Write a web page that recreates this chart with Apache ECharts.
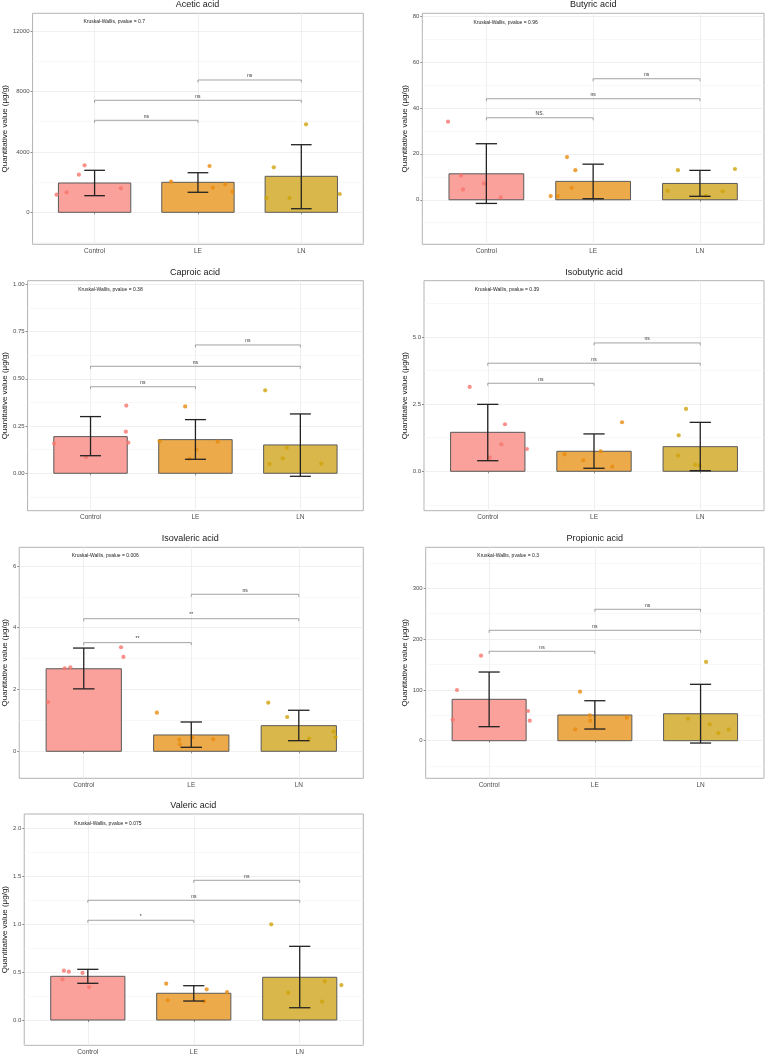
<!DOCTYPE html>
<html>
<head>
<meta charset="utf-8">
<script src="https://cdn.jsdelivr.net/npm/echarts@6/dist/echarts.min.js"></script>
<style>
html, body { margin: 0; padding: 0; background: #fff; }
#main { width: 767px; height: 1057px; }
</style>
</head>
<body>
<div id="main"></div>
<script>
var groups = ['Control', 'LE', 'LN'];
var ptColors = ['#F8766D', '#E98B0C', '#D0A20A'];
var barColors = ['#F9A19A', '#EDAA4B', '#D9B74A'];
var pairs = [[1, 2], [1, 3], [2, 3]];

// Acetic acid
var aceticMean = [1939, 1985, 2382];
var aceticLow = [1100, 1324, 238];
var aceticHigh = [2780, 2620, 4474];
var aceticPtX = [0.632, 0.729, 0.848, 0.903, 1.254, 1.74, 2.112, 2.144, 2.263, 2.334, 2.663, 2.734, 2.886, 3.046, 3.372];
var aceticPtY = [1166, 1324, 2490, 3110, 1588, 2026, 3064, 1630, 1853, 1365, 946, 2978, 946, 5823, 1211];
var aceticSig = [6088, 7412, 8756];
var aceticSigText = ['ns', 'ns', 'ns'];
var aceticTicks = [0, 4000, 8000, 12000];
var aceticMinor = [-2000, 2000, 6000, 10000];
var aceticRange = [-2118, 13170];
var aceticP = ['Kruskal-Wallis, pvalue = 0.7', 1.19, 12594];

// Butyric acid
var butyricMean = [11.3, 8.0, 7.1];
var butyricLow = [-1.6, 0.44, 1.5];
var butyricHigh = [24.4, 15.5, 12.8];
var butyricPtX = [0.641, 0.762, 0.781, 0.978, 1.134, 1.602, 1.668, 1.755, 1.799, 1.833, 2.698, 2.794, 3.056, 3.213, 3.328];
var butyricPtY = [34.0, 10.6, 4.5, 7.1, 1.0, 1.6, 1.6, 18.6, 5.2, 12.9, 3.9, 12.9, 1.7, 3.7, 13.4];
var butyricSig = [35.7, 44.0, 52.7];
var butyricSigText = ['NS.', 'ns', 'ns'];
var butyricTicks = [0, 20, 40, 60, 80];
var butyricMinor = [-10, 10, 30, 50, 70];
var butyricRange = [-19.4, 81.2];
var butyricP = ['Kruskal-Wallis, pvalue = 0.96', 1.18, 77.3];

// Caproic acid
var caproicMean = [0.194, 0.178, 0.150];
var caproicLow = [0.093, 0.074, -0.016];
var caproicHigh = [0.30, 0.284, 0.314];
var caproicPtX = [0.653, 0.957, 1.341, 1.337, 1.36, 1.658, 1.902, 1.943, 2.009, 2.212, 2.665, 2.706, 2.833, 2.871, 3.2];
var caproicPtY = [0.157, 0.086, 0.358, 0.220, 0.162, 0.169, 0.354, 0.077, 0.125, 0.167, 0.439, 0.049, 0.079, 0.135, 0.051];
var caproicSig = [0.458, 0.566, 0.679];
var caproicSigText = ['ns', 'ns', 'ns'];
var caproicTicks = [0, 0.25, 0.5, 0.75, 1];
var caproicMinor = [-0.125, 0.125, 0.375, 0.625, 0.875];
var caproicRange = [-0.198, 1.019];
var caproicP = ['Kruskal-Wallis, pvalue = 0.38', 1.19, 0.973];

// Isobutyric acid
var isobutyricMean = [1.45, 0.744, 0.916];
var isobutyricLow = [0.394, 0.112, 0.022];
var isobutyricHigh = [2.49, 1.39, 1.82];
var isobutyricPtX = [0.83, 1.018, 1.128, 1.162, 1.369, 1.724, 1.899, 2.063, 2.172, 2.264, 2.791, 2.797, 2.866, 2.953, 2.995];
var isobutyricPtY = [3.14, 0.506, 1.005, 1.75, 0.83, 0.633, 0.409, 0.744, 0.171, 1.824, 0.58, 1.34, 2.32, 0.246, 0.208];
var isobutyricSig = [3.275, 4.02, 4.775];
var isobutyricSigText = ['ns', 'ns', 'ns'];
var isobutyricTicks = [0, 2.5, 5];
var isobutyricMinor = [-1.25, 1.25, 3.75, 6.25];
var isobutyricRange = [-1.466, 7.09];
var isobutyricP = ['Kruskal-Wallis, pvalue = 0.39', 1.18, 6.77];

// Isovaleric acid
var isovalericMean = [2.67, 0.528, 0.829];
var isovalericLow = [2.02, 0.129, 0.343];
var isovalericHigh = [3.34, 0.948, 1.327];
var isovalericPtX = [0.668, 0.823, 0.875, 1.347, 1.369, 1.68, 1.889, 1.893, 2.01, 2.204, 2.716, 2.892, 3.096, 3.323, 3.342];
var isovalericPtY = [1.595, 2.686, 2.718, 3.366, 3.052, 1.249, 0.375, 0.226, 0.453, 0.388, 1.573, 1.11, 0.408, 0.634, 0.453];
var isovalericSig = [3.515, 4.29, 5.08];
var isovalericSigText = ['**', '**', 'ns'];
var isovalericTicks = [0, 2, 4, 6];
var isovalericMinor = [1, 3, 5];
var isovalericRange = [-0.874, 6.6];
var isovalericP = ['Kruskal-Wallis, pvalue = 0.006', 1.2, 6.32];

// Propionic acid
var propionicMean = [81.5, 50.6, 53.1];
var propionicLow = [27.6, 23, -4.6];
var propionicHigh = [135.2, 78.7, 111];
var propionicPtX = [0.655, 0.696, 0.923, 1.368, 1.384, 1.815, 1.86, 1.952, 1.957, 2.302, 2.881, 3.052, 3.087, 3.168, 3.267];
var propionicPtY = [41.3, 99.8, 167.3, 58.5, 39.4, 22.4, 96.5, 50, 39.4, 45.3, 43.3, 155, 32.3, 15.2, 21.7];
var propionicSig = [176, 217.3, 258.7];
var propionicSigText = ['ns', 'ns', 'ns'];
var propionicTicks = [0, 100, 200, 300];
var propionicMinor = [-50, 50, 150, 250, 350];
var propionicRange = [-74, 380.7];
var propionicP = ['Kruskal-Wallis, pvalue = 0.3', 1.18, 363.6];

// Valeric acid
var valericMean = [0.456, 0.279, 0.446];
var valericLow = [0.383, 0.198, 0.128];
var valericHigh = [0.529, 0.358, 0.769];
var valericPtX = [0.761, 0.774, 0.821, 0.95, 1.012, 1.74, 1.755, 2.098, 2.122, 2.314, 2.731, 2.891, 3.211, 3.237, 3.393];
var valericPtY = [0.425, 0.515, 0.504, 0.491, 0.344, 0.379, 0.206, 0.195, 0.32, 0.292, 0.999, 0.285, 0.191, 0.404, 0.365];
var valericSig = [1.041, 1.25, 1.458];
var valericSigText = ['*', 'ns', 'ns'];
var valericTicks = [0, 0.5, 1, 1.5, 2];
var valericMinor = [-0.25, 0.25, 0.75, 1.25, 1.75];
var valericRange = [-0.264, 2.15];
var valericP = ['Kruskal-Wallis, pvalue = 0.075', 1.19, 2.053];

var panels = [
  {title: 'Acetic acid', mean: aceticMean, low: aceticLow, high: aceticHigh, px: aceticPtX, py: aceticPtY, sig: aceticSig, sigText: aceticSigText, ticks: aceticTicks, minor: aceticMinor, range: aceticRange, p: aceticP, box: [31.7, 13.3, 331.6, 231]},
  {title: 'Butyric acid', mean: butyricMean, low: butyricLow, high: butyricHigh, px: butyricPtX, py: butyricPtY, sig: butyricSig, sigText: butyricSigText, ticks: butyricTicks, minor: butyricMinor, range: butyricRange, p: butyricP, box: [422.3, 13.3, 341.7, 231]},
  {title: 'Caproic acid', mean: caproicMean, low: caproicLow, high: caproicHigh, px: caproicPtX, py: caproicPtY, sig: caproicSig, sigText: caproicSigText, ticks: caproicTicks, minor: caproicMinor, range: caproicRange, p: caproicP, box: [26.7, 280.7, 336.6, 230]},
  {title: 'Isobutyric acid', mean: isobutyricMean, low: isobutyricLow, high: isobutyricHigh, px: isobutyricPtX, py: isobutyricPtY, sig: isobutyricSig, sigText: isobutyricSigText, ticks: isobutyricTicks, minor: isobutyricMinor, range: isobutyricRange, p: isobutyricP, box: [424, 280.7, 340, 230]},
  {title: 'Isovaleric acid', mean: isovalericMean, low: isovalericLow, high: isovalericHigh, px: isovalericPtX, py: isovalericPtY, sig: isovalericSig, sigText: isovalericSigText, ticks: isovalericTicks, minor: isovalericMinor, range: isovalericRange, p: isovalericP, box: [17.3, 547.3, 346, 231]},
  {title: 'Propionic acid', mean: propionicMean, low: propionicLow, high: propionicHigh, px: propionicPtX, py: propionicPtY, sig: propionicSig, sigText: propionicSigText, ticks: propionicTicks, minor: propionicMinor, range: propionicRange, p: propionicP, box: [425.7, 547.3, 338.3, 231]},
  {title: 'Valeric acid', mean: valericMean, low: valericLow, high: valericHigh, px: valericPtX, py: valericPtY, sig: valericSig, sigText: valericSigText, ticks: valericTicks, minor: valericMinor, range: valericRange, p: valericP, box: [23.3, 814, 340, 231.3]}
];

var font = 'Liberation Sans, Arial, Helvetica, sans-serif';
var nameLeft = [6, 406, 6, 406, 6, 406, 6];

var option = {
  animation: false,
  backgroundColor: '#fff',
  title: [],
  grid: [],
  xAxis: [],
  yAxis: [],
  series: []
};

panels.forEach(function (p, i) {
  var b = p.box;
  option.title.push({
    text: p.title,
    left: b[0] + b[2] / 2,
    top: b[1] - 13,
    textAlign: 'center',
    padding: 0,
    textStyle: {fontFamily: font, fontSize: 9, fontWeight: 'normal', color: '#1a1a1a'}
  });
  option.grid.push({
    left: b[0], top: b[1], width: b[2], height: b[3],
    show: true, borderColor: '#b3b3b3', borderWidth: 1, backgroundColor: 'transparent'
  });
  option.xAxis.push({
    type: 'value', gridIndex: i, min: 0.4, max: 3.6,
    axisLine: {show: false},
    axisTick: {show: true, length: 2, lineStyle: {color: '#8c8c8c'}, customValues: [1, 2, 3]},
    axisLabel: {
      customValues: [1, 2, 3], margin: 3, fontFamily: font, fontSize: 6.5, color: '#4d4d4d',
      formatter: function (v) { return groups[Math.round(v) - 1] || ''; }
    },
    splitLine: {show: true, lineStyle: {color: '#ebebeb', width: 0.8}}
  });
  // main y axis: labels, ticks, major grid
  option.yAxis.push({
    type: 'value', gridIndex: i, min: p.range[0], max: p.range[1],
    name: 'Quantitative value (\u03bcg/g)', nameLocation: 'middle', nameRotate: 90,
    nameGap: b[0] - nameLeft[i] - 4,
    nameTextStyle: {fontFamily: font, fontSize: 8, color: '#1a1a1a'},
    axisLine: {show: false},
    axisTick: {show: true, length: 2, lineStyle: {color: '#8c8c8c'}, customValues: p.ticks},
    axisLabel: {
      customValues: p.ticks, margin: 3, fontFamily: font, fontSize: 6, color: '#4d4d4d',
      formatter: function (v) {
        var t = p.ticks;
        var dec = 0;
        t.forEach(function (x) { var s = String(x).split('.')[1]; if (s && s.length > dec) dec = s.length; });
        return v.toFixed(dec);
      }
    },
    splitLine: {show: true, lineStyle: {color: '#ebebeb', width: 0.8}}
  });
  // hidden y axis for minor grid lines
  option.yAxis.push({
    type: 'value', gridIndex: i, min: p.range[0], max: p.range[1], position: 'left',
    axisLine: {show: false},
    axisTick: {show: false, customValues: p.minor},
    axisLabel: {show: false, customValues: p.minor},
    splitLine: {show: true, lineStyle: {color: '#f3f3f3', width: 0.6}}
  });
  var yIdx = i * 2;

  // bars
  option.series.push({
    type: 'custom', xAxisIndex: i, yAxisIndex: yIdx, z: 2,
    data: p.mean.map(function (m, k) { return [k + 1, m]; }),
    renderItem: function (params, api) {
      var x = api.value(0), y = api.value(1);
      var a = api.coord([x - 0.35, y]);
      var c = api.coord([x + 0.35, 0]);
      return {
        type: 'rect',
        shape: {x: a[0], y: a[1], width: c[0] - a[0], height: c[1] - a[1]},
        style: {fill: barColors[params.dataIndex], stroke: '#5a5a5a', lineWidth: 1}
      };
    }
  });
  // points
  option.series.push({
    type: 'scatter', xAxisIndex: i, yAxisIndex: yIdx, z: 3,
    symbolSize: 4.2,
    data: p.px.map(function (x, k) {
      return {value: [x, p.py[k]], itemStyle: {color: ptColors[Math.floor(k / 5)]}};
    })
  });
  // error bars
  option.series.push({
    type: 'custom', xAxisIndex: i, yAxisIndex: yIdx, z: 4,
    data: p.low.map(function (lo, k) { return [k + 1, lo, p.high[k]]; }),
    renderItem: function (params, api) {
      var x = api.value(0);
      var lo = api.coord([x, api.value(1)]);
      var hi = api.coord([x, api.value(2)]);
      var l = api.coord([x - 0.1, api.value(1)])[0];
      var r = api.coord([x + 0.1, api.value(1)])[0];
      var st = {stroke: '#222', lineWidth: 1.3};
      return {type: 'group', children: [
        {type: 'line', shape: {x1: lo[0], y1: lo[1], x2: hi[0], y2: hi[1]}, style: st},
        {type: 'line', shape: {x1: l, y1: lo[1], x2: r, y2: lo[1]}, style: st},
        {type: 'line', shape: {x1: l, y1: hi[1], x2: r, y2: hi[1]}, style: st}
      ]};
    }
  });
  // significance brackets
  option.series.push({
    type: 'custom', xAxisIndex: i, yAxisIndex: yIdx, z: 5,
    data: p.sig.map(function (y, k) { return [pairs[k][0], pairs[k][1], y]; }),
    renderItem: function (params, api) {
      var a = api.coord([api.value(0), api.value(2)]);
      var c = api.coord([api.value(1), api.value(2)]);
      return {type: 'group', children: [
        {type: 'polyline', shape: {points: [[a[0], a[1] + 2.5], [a[0], a[1]], [c[0], c[1]], [c[0], c[1] + 2.5]]},
          style: {stroke: '#8c8c8c', lineWidth: 0.8, fill: null}},
        {type: 'text', x: (a[0] + c[0]) / 2, y: a[1] - 1.5,
          style: {text: p.sigText[params.dataIndex], fontFamily: font, fontSize: 5, fill: '#333',
            align: 'center', verticalAlign: 'bottom'}}
      ]};
    }
  });
  // Kruskal-Wallis label
  option.series.push({
    type: 'custom', xAxisIndex: i, yAxisIndex: yIdx, z: 5,
    data: [[p.p[1], p.p[2]]],
    renderItem: function (params, api) {
      var c = api.coord([api.value(0), api.value(1)]);
      return {type: 'text', x: c[0], y: c[1],
        style: {text: p.p[0], fontFamily: font, fontSize: 5, fill: '#1a1a1a', align: 'center', verticalAlign: 'middle'}};
    }
  });
});

var chart = echarts.init(document.getElementById('main'));
chart.setOption(option);
</script>
</body>
</html>
